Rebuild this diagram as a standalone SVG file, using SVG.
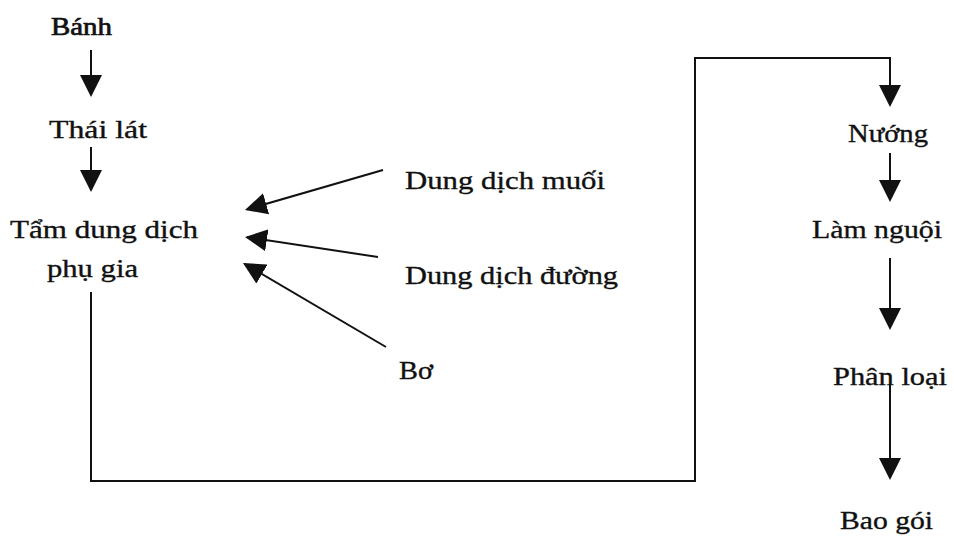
<svg xmlns="http://www.w3.org/2000/svg" width="954" height="546" viewBox="0 0 954 546">
  <style>
    .lbl { font-family: "Liberation Serif", "Times New Roman", serif; font-size: 25px; fill: #111; stroke: #111; stroke-width: 0.35; }
    .con { stroke: #111; stroke-width: 2; fill: none; }
  </style>
  <defs>
    <marker id="ah" viewBox="0 0 22 22" refX="20" refY="11" markerWidth="22" markerHeight="22" markerUnits="userSpaceOnUse" orient="auto">
      <path d="M0,0 L22,11 L0,22 z" fill="#111"/>
    </marker>
  </defs>
  <rect width="954" height="546" fill="#fff"/>

  <g id="connectors">
    <line class="con" x1="91" y1="50" x2="91" y2="95" marker-end="url(#ah)"/>
    <line class="con" x1="91" y1="147" x2="91" y2="190" marker-end="url(#ah)"/>
    <line class="con" x1="383" y1="170" x2="246.9" y2="209.4" marker-end="url(#ah)"/>
    <line class="con" x1="378" y1="257" x2="247" y2="237.3" marker-end="url(#ah)"/>
    <line class="con" x1="386" y1="347" x2="244.7" y2="264" marker-end="url(#ah)"/>
    <path class="con" d="M91,292 V481 H695 V58 H890 V105" marker-end="url(#ah)"/>
    <line class="con" x1="890" y1="153" x2="890" y2="200" marker-end="url(#ah)"/>
    <line class="con" x1="890" y1="258" x2="890" y2="328" marker-end="url(#ah)"/>
    <line class="con" x1="890" y1="385" x2="890" y2="478" marker-end="url(#ah)"/>
  </g>

  <g id="banh"><text class="lbl" x="51" y="35" textLength="61" lengthAdjust="spacingAndGlyphs" style="stroke-width:0.7">Bánh</text></g>
  <g id="thai-lat"><text class="lbl" x="49" y="138" textLength="98" lengthAdjust="spacingAndGlyphs">Thái lát</text></g>
  <g id="tam-dung-dich">
    <text class="lbl" x="10" y="238" textLength="188" lengthAdjust="spacingAndGlyphs">Tẩm dung dịch</text>
    <text class="lbl" x="47" y="277" textLength="91" lengthAdjust="spacingAndGlyphs">phụ gia</text>
  </g>
  <g id="dung-dich-muoi"><text class="lbl" x="405" y="189" textLength="200" lengthAdjust="spacingAndGlyphs">Dung dịch muối</text></g>
  <g id="dung-dich-duong"><text class="lbl" x="405" y="284" textLength="213" lengthAdjust="spacingAndGlyphs">Dung dịch đường</text></g>
  <g id="bo"><text class="lbl" x="399" y="379" textLength="34" lengthAdjust="spacingAndGlyphs">Bơ</text></g>
  <g id="nuong"><text class="lbl" x="848" y="142" textLength="80" lengthAdjust="spacingAndGlyphs">Nướng</text></g>
  <g id="lam-nguoi"><text class="lbl" x="812" y="238" textLength="130" lengthAdjust="spacingAndGlyphs">Làm nguội</text></g>
  <g id="phan-loai"><text class="lbl" x="833" y="385" textLength="114" lengthAdjust="spacingAndGlyphs">Phân loại</text></g>
  <g id="bao-goi"><text class="lbl" x="840" y="529" textLength="93" lengthAdjust="spacingAndGlyphs">Bao gói</text></g>
</svg>
